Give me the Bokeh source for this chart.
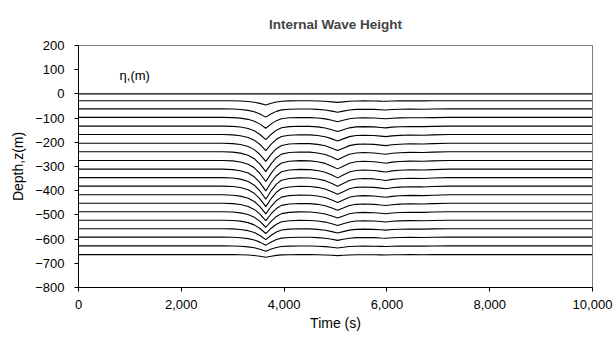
from bokeh.plotting import figure
from bokeh.models import Range1d, FixedTicker, NumeralTickFormatter, Label
from bokeh.embed import file_html
from bokeh.resources import INLINE

# Time axis sample points (s)
times = [0, 2800, 3000, 3150, 3300, 3420, 3530, 3644, 3750, 3850, 3950, 4100,
         4300, 4500, 4650, 4800, 4930, 5040, 5150, 5270, 5400, 5550, 5750, 5880,
         5980, 6100, 6250, 6450, 6700, 6900, 7200, 10000]
# Normalised displacement (fraction of the main trough) at those times
dip_profile = [0, 0, 0.02, 0.07, 0.18, 0.35, 0.62, 1.0, 0.6, 0.3, 0.12, 0.04,
               0.01, 0.02, 0.06, 0.14, 0.27, 0.4, 0.27, 0.13, 0.06, 0.04, 0.06, 0.1,
               0.13, 0.08, 0.05, 0.03, 0.04, 0.02, 0, 0]
# Rest depth of each isopycnal line (m)
line_depths = [0, -28, -62, -97, -133, -168, -204, -239, -275, -311,
               -346, -381, -417, -452, -487, -522, -557, -592, -628, -664]
# Main-trough displacement of each line (m)
dip_amplitude = [0, 18, 34, 45, 56, 66, 75, 82, 87, 90,
                 89, 85, 79, 72, 64, 55, 45, 33, 22, 11]

x_ticks = [0, 2000, 4000, 6000, 8000, 10000]
y_ticks = [200, 100, 0, -100, -200, -300, -400, -500, -600, -700, -800]

FONT = "Liberation Sans"

p = figure(width=614, height=345, output_backend="svg", toolbar_location=None,
           x_range=Range1d(0, 10000), y_range=Range1d(-800, 200),
           min_border_left=78, min_border_right=22, min_border_top=44,
           min_border_bottom=58, title="Internal Wave Height")

p.title.align = "center"
p.title.text_font = FONT
p.title.text_font_size = "13.5px"
p.title.text_font_style = "bold"
p.title.standoff = 28

p.background_fill_color = "white"
p.border_fill_color = "white"
p.outline_line_color = "#808080"
p.outline_line_width = 1
p.xgrid.visible = False
p.ygrid.visible = False

for ax in (p.xaxis[0], p.yaxis[0]):
    ax.axis_line_color = "black"
    ax.axis_line_width = 1
    ax.major_tick_line_color = "black"
    ax.major_tick_in = 0
    ax.major_tick_out = 4
    ax.minor_tick_line_color = None
    ax.major_label_text_font = FONT
    ax.major_label_text_font_size = "13px"
    ax.major_label_text_color = "black"
    ax.axis_label_text_font = FONT
    ax.axis_label_text_font_size = "14px"
    ax.axis_label_text_font_style = "normal"
    ax.axis_label_text_color = "black"

p.xaxis.ticker = FixedTicker(ticks=x_ticks)
p.xaxis.formatter = NumeralTickFormatter(format="0,0")
p.xaxis.axis_label = "Time (s)"
p.xaxis.major_label_standoff = 8
p.xaxis.axis_label_standoff = 3

p.yaxis.ticker = FixedTicker(ticks=y_ticks)
p.yaxis.axis_label = "Depth,z(m)"
p.yaxis.major_label_standoff = 10
p.yaxis.axis_label_standoff = 6

for depth, amp in zip(line_depths, dip_amplitude):
    ys = [depth - amp * f for f in dip_profile]
    p.line(times, ys, line_color="black", line_width=1.1)

p.add_layout(Label(x=800, y=77, text="η,(m)", text_font=FONT,
                   text_font_size="13px", text_baseline="middle",
                   text_color="black"))

open("out.html", "w").write(file_html(p, INLINE))
